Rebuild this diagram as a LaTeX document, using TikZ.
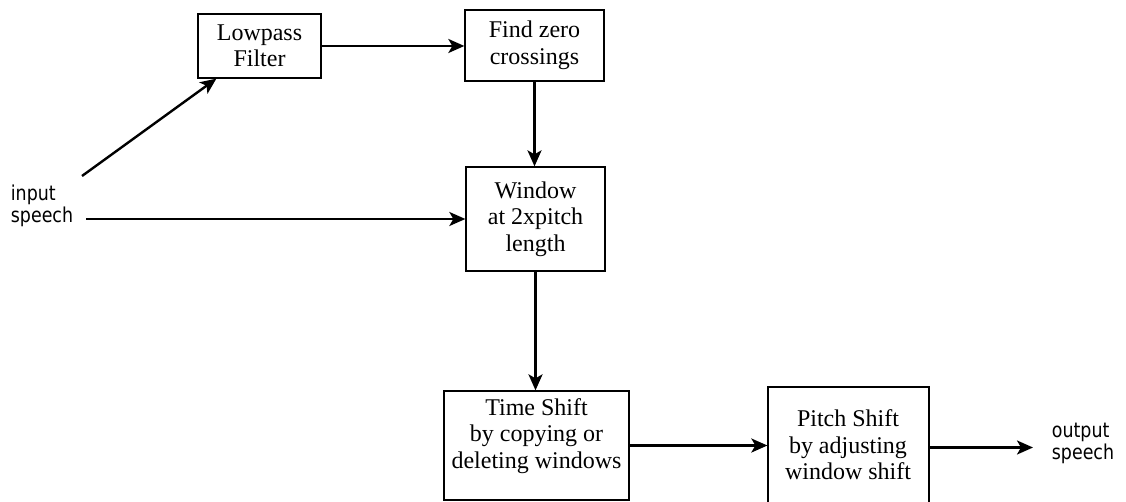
\documentclass[tikz,border=0pt]{standalone}
\usepackage{fontspec}
\setmainfont{Liberation Serif}
\newfontfamily\handfont[FakeStretch=0.85]{DejaVu Sans}
\usetikzlibrary{arrows.meta,calc}

\tikzset{
  blockbox/.style={draw, line width=1.3pt, inner sep=0pt},
  blocktext/.style={align=center, inner sep=0pt,
    font=\fontsize{24}{26.5}\selectfont},
  sidetext/.style={align=left, inner sep=0pt,
    font=\handfont\fontsize{20.5}{22}\selectfont},
  flow/.style={line width=2.4pt,
    -{Stealth[length=16pt, width=14pt, inset=4pt]}}
}

\begin{document}
\begin{tikzpicture}[x=1pt, y=-1pt]
  \useasboundingbox (0,0) rectangle (1126,502);

  % processing blocks
  \node[blockbox, minimum width=123pt, minimum height=64pt] (lp) at (259.5,46) {};
  \node[blocktext] (lpt) at (lp.center) {Lowpass\\Filter};

  \node[blockbox, minimum width=139pt, minimum height=71pt] (fz) at (534.5,45.5) {};
  \node[blocktext] (fzt) at (fz.center) {Find zero\\crossings};

  \node[blockbox, minimum width=139pt, minimum height=104pt] (win) at (535.5,219) {};
  \node[blocktext] (wint) at (win.center) {Window\\at 2xpitch\\length};

  \node[blockbox, minimum width=185pt, minimum height=109pt] (ts) at (536.5,445.5) {};
  \node[blocktext] (tst) at (536.5,436) {Time Shift\\by copying or\\deleting windows};

  \begin{scope}
    \clip (0,0) rectangle (1126,502);
    \node[blockbox, minimum width=161pt, minimum height=133pt] (ps) at (848.5,453.5) {};
  \end{scope}
  \node[blocktext] (pst) at (848,445) {Pitch Shift\\by adjusting\\window shift};

  % input and output labels
  \node[sidetext] (in) at (42,206) {input\\speech};
  \node[sidetext] (out) at (1083,443) {output\\speech};

  % connectors
  \coordinate (ds) at (82,176);
  \draw[flow] (ds) -- ($(lp.south west)+(19,0)$);
  \draw[flow] ($(in.east |- win.west)+(13,0)$) -- (win.west);
  \draw[flow] (lp.east) -- (lp.east -| fz.west);
  \draw[flow] (fz.south) -- (fz.south |- win.north);
  \draw[flow] (win.south) -- (win.south |- ts.north);
  \draw[flow] (ts.east) -- (ts.east -| ps.west);
  \draw[flow] ($(ps.east |- ts.east)+(0,2)$) -- (1033,447.5);
\end{tikzpicture}
\end{document}
